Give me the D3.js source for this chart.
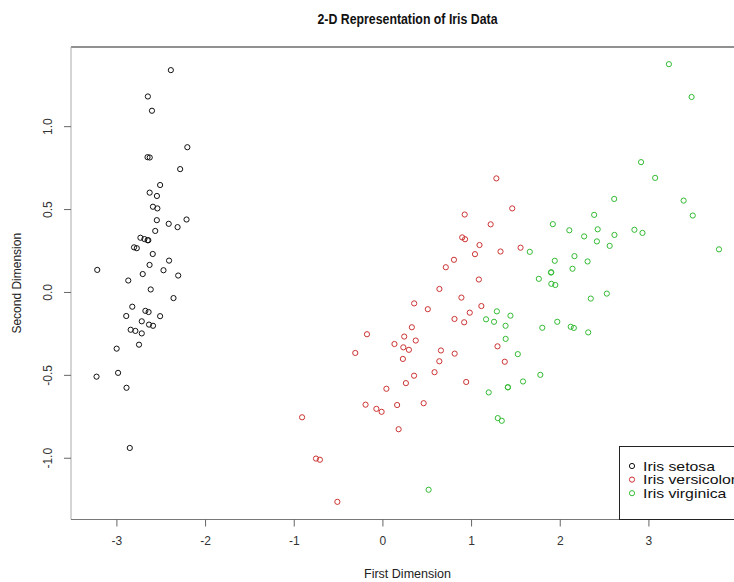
<!DOCTYPE html>
<html>
<head>
<meta charset="utf-8">
<script src="https://cdn.jsdelivr.net/npm/d3@7"></script>
<style>
  html, body { margin: 0; padding: 0; background: #fff; }
  svg { display: block; font-family: "Liberation Sans", Arial, sans-serif; }
</style>
</head>
<body>
<svg id="chart" width="734" height="582"></svg>
<script>
// ---- data ----
const title = "2-D Representation of Iris Data";
const xLabel = "First Dimension";
const yLabel = "Second Dimension";
const species = ["Iris setosa", "Iris versicolor", "Iris virginica"];
const speciesColors = ["#111111", "#cc3333", "#33bb33"];
const xTicks = [-3, -2, -1, 0, 1, 2, 3, 4];
const yTicks = [-1.0, -0.5, 0.0, 0.5, 1.0];

const setosaX = [-2.684,-2.714,-2.889,-2.745,-2.729,-2.281,-2.821,-2.626,-2.886,-2.673,-2.507,-2.613,-2.786,-3.224,-2.645,-2.386,-2.624,-2.648,-2.200,-2.588,-2.310,-2.544,-3.216,-2.303,-2.356,-2.507,-2.469,-2.562,-2.640,-2.632,-2.587,-2.410,-2.649,-2.599,-2.637,-2.866,-2.625,-2.801,-2.981,-2.590,-2.770,-2.849,-2.997,-2.406,-2.209,-2.714,-2.538,-2.839,-2.543,-2.703];
const setosaY = [0.319,-0.177,-0.145,-0.318,0.327,0.741,-0.089,0.163,-0.578,-0.114,0.645,0.015,-0.235,-0.511,1.179,1.338,0.811,0.312,0.873,0.514,0.391,0.433,0.133,0.099,-0.037,-0.146,0.131,0.368,0.312,-0.197,-0.204,0.411,0.813,1.093,-0.121,0.069,0.599,0.269,-0.488,0.229,0.264,-0.941,-0.342,0.189,0.437,-0.250,0.504,-0.228,0.579,0.108];
const versicolorX = [1.285,0.932,1.464,0.183,1.088,0.642,1.095,-0.749,1.044,-0.009,-0.508,0.512,0.265,0.985,-0.174,0.928,0.660,0.236,0.945,0.045,1.116,0.358,1.298,0.922,0.715,0.900,1.332,1.558,0.813,-0.306,-0.068,-0.190,0.136,1.380,0.588,0.807,1.221,0.815,0.246,0.166,0.465,0.891,0.231,-0.705,0.357,0.332,0.376,0.643,-0.906,0.299];
const versicolorY = [0.685,0.318,0.504,-0.828,0.075,-0.418,0.283,-1.005,0.228,-0.723,-1.266,-0.104,-0.550,-0.125,-0.255,0.467,-0.353,-0.334,-0.543,-0.584,-0.085,-0.069,-0.328,-0.183,0.149,0.329,0.244,0.267,-0.163,-0.368,-0.705,-0.680,-0.314,-0.421,-0.484,0.194,0.408,-0.372,-0.269,-0.682,-0.671,-0.034,-0.404,-1.012,-0.505,-0.213,-0.293,0.018,-0.756,-0.349];
const virginicaX = [2.531,1.415,2.617,1.972,2.350,3.397,0.521,2.933,2.321,2.917,1.662,1.803,2.166,1.346,1.586,1.904,1.950,3.487,3.796,1.301,2.428,1.199,3.500,1.389,2.275,2.614,1.259,1.291,2.124,2.388,2.842,3.231,2.159,1.444,1.781,3.076,2.144,1.905,1.169,2.108,2.314,1.922,1.415,2.563,2.419,1.944,1.527,1.764,1.901,1.390];
const virginicaY = [-0.010,-0.575,0.344,-0.180,-0.040,0.551,-1.193,0.356,-0.244,0.783,0.242,-0.216,0.216,-0.777,-0.540,0.119,0.042,1.176,0.257,-0.761,0.378,-0.606,0.461,-0.204,0.335,0.561,-0.180,-0.117,-0.210,0.465,0.375,1.374,-0.217,-0.143,-0.500,0.688,0.140,0.049,-0.165,0.372,0.184,0.409,-0.575,0.278,0.305,0.188,-0.375,0.079,0.117,-0.283];

// ---- layout ----
const svg = d3.select("#chart");
const L = 71, R = 744, T = 47, B = 519.5;

const x = d3.scaleLinear().domain([-3.512, 4.078]).range([L, R]);
const y = d3.scaleLinear().domain([-1.3725, 1.4775]).range([B, T]);

// title
svg.append("text")
  .attr("x", (L + R) / 2).attr("y", 24)
  .attr("text-anchor", "middle")
  .attr("font-size", 14).attr("font-weight", "bold")
  .attr("textLength", 180).attr("lengthAdjust", "spacingAndGlyphs")
  .attr("fill", "#111")
  .text(title);

// box
svg.append("line").attr("x1", L).attr("x2", R).attr("y1", T).attr("y2", T)
  .attr("stroke", "#222").attr("stroke-width", 1.2);
svg.append("line").attr("x1", L).attr("x2", L).attr("y1", T).attr("y2", B)
  .attr("stroke", "#aaa").attr("stroke-width", 1);
svg.append("line").attr("x1", L).attr("x2", R).attr("y1", B).attr("y2", B)
  .attr("stroke", "#777").attr("stroke-width", 1.2);

// x axis
const xAxis = d3.axisBottom(x).tickValues(xTicks).tickSize(7).tickPadding(10)
  .tickFormat(d3.format("d"));
const gx = svg.append("g").attr("transform", `translate(0,${B})`).call(xAxis);
gx.select(".domain").remove();
gx.selectAll(".tick line").attr("stroke", "#666");
gx.selectAll(".tick text").attr("font-size", 12).attr("fill", "#333")
  .attr("font-family", "Liberation Sans, Arial, sans-serif")
  .text(d => d < 0 ? "-" + Math.abs(d) : d);
// the last label falls outside the visible page in the reference
gx.selectAll(".tick").filter(d => d === 4).select("text").remove();

// y axis
const yAxis = d3.axisLeft(y).tickValues(yTicks).tickSize(7).tickPadding(0)
  .tickFormat(d3.format(".1f"));
const gy = svg.append("g").attr("transform", `translate(${L},0)`).call(yAxis);
gy.select(".domain").remove();
gy.selectAll(".tick line").attr("stroke", "#666");
gy.selectAll(".tick text").remove();
gy.selectAll(".tick").append("text")
  .attr("transform", "translate(-19,0) rotate(-90)")
  .attr("text-anchor", "middle")
  .attr("font-size", 12).attr("fill", "#333")
  .attr("font-family", "Liberation Sans, Arial, sans-serif")
  .text(d => d3.format(".1f")(d).replace("−", "-"));

// axis titles
svg.append("text")
  .attr("x", (L + R) / 2).attr("y", 578)
  .attr("text-anchor", "middle").attr("font-size", 12)
  .attr("textLength", 87).attr("lengthAdjust", "spacingAndGlyphs")
  .attr("fill", "#222").text(xLabel);
svg.append("text")
  .attr("transform", `translate(21,${(T + B) / 2}) rotate(-90)`)
  .attr("text-anchor", "middle").attr("font-size", 12)
  .attr("fill", "#222").text(yLabel);

// points
const groups = [
  { xs: setosaX, ys: setosaY, c: speciesColors[0] },
  { xs: versicolorX, ys: versicolorY, c: speciesColors[1] },
  { xs: virginicaX, ys: virginicaY, c: speciesColors[2] }
];
const plot = svg.append("g");
groups.forEach(g => {
  plot.selectAll(null)
    .data(g.xs.map((v, i) => [v, g.ys[i]]))
    .enter().append("circle")
    .attr("cx", d => x(d[0])).attr("cy", d => y(d[1]))
    .attr("r", 2.6)
    .attr("fill", "none").attr("stroke", g.c).attr("stroke-width", 1);
});

// legend (bottom-right)
const lg = svg.append("g");
lg.append("rect").attr("x", 619.5).attr("y", 446.5).attr("width", R - 619.5).attr("height", B - 446.5)
  .attr("fill", "#fff").attr("stroke", "#222").attr("stroke-width", 1);
species.forEach((s, i) => {
  const cy = 466 + i * 13.6;
  lg.append("circle").attr("cx", 632).attr("cy", cy).attr("r", 2.6)
    .attr("fill", "none").attr("stroke", speciesColors[i]).attr("stroke-width", 1);
  const t = lg.append("text").attr("x", 643).attr("y", cy + 4.8)
    .attr("font-size", 13.5).attr("fill", "#111").text(s);
  const w = t.node().getComputedTextLength();
  t.attr("textLength", w * 1.17).attr("lengthAdjust", "spacingAndGlyphs");
});
</script>
</body>
</html>
